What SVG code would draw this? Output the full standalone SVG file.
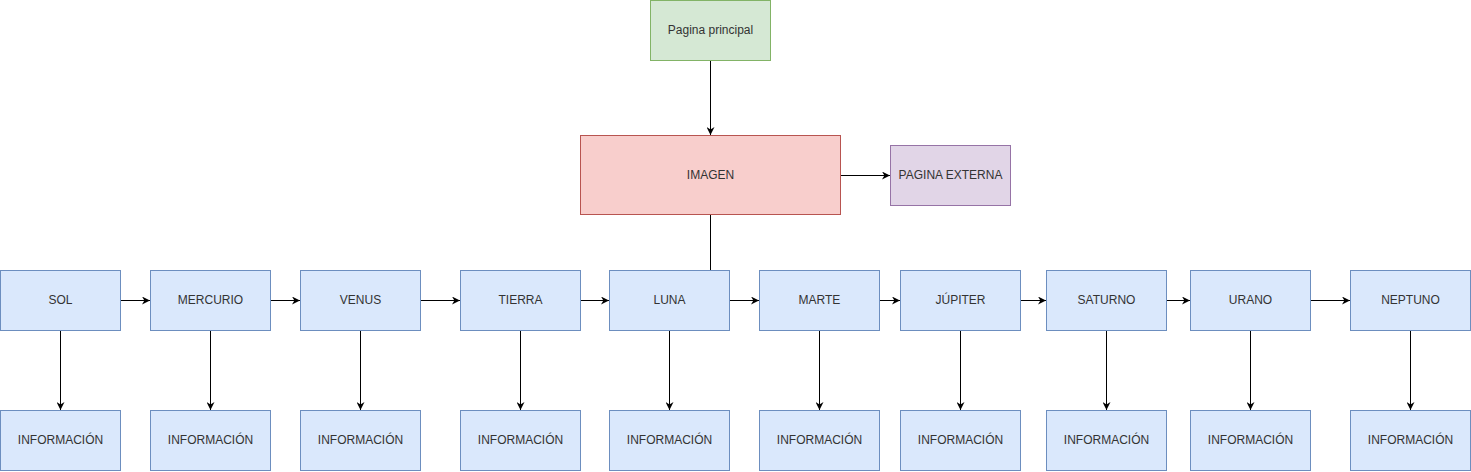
<svg xmlns="http://www.w3.org/2000/svg" width="1471" height="472" viewBox="0 0 1471 472">
<style>
.t{font-family:"Liberation Sans",Arial,sans-serif;font-size:12px;fill:#333333;text-anchor:middle;dominant-baseline:central}
.blue{fill:#dae8fc;stroke:#6c8ebf;stroke-width:1}
.green{fill:#d5e8d4;stroke:#82b366;stroke-width:1}
.red{fill:#f8cecc;stroke:#b85450;stroke-width:1}
.purple{fill:#e1d5e7;stroke:#9673a6;stroke-width:1}
.c{fill:none;stroke:#000000;stroke-width:1}
.a{marker-end:url(#arr)}
</style>
<defs>
<marker id="arr" viewBox="0 0 10 10" refX="10" refY="5" markerWidth="8" markerHeight="8" markerUnits="userSpaceOnUse" orient="auto">
<path d="M0,0 L10,5 L0,10 L3,5 Z" fill="#000000"/>
</marker>
</defs>
<g id="connectors">
<path class="c a" d="M710.5,61 L710.5,135"/>
<path class="c a" d="M841,175.5 L890,175.5"/>
<path class="c" d="M710.5,215 L710.5,270"/>
<path class="c a" d="M121,300.5 L150,300.5"/>
<path class="c a" d="M271,300.5 L300,300.5"/>
<path class="c a" d="M421,300.5 L460,300.5"/>
<path class="c a" d="M581,300.5 L609,300.5"/>
<path class="c a" d="M730,300.5 L759,300.5"/>
<path class="c a" d="M880,300.5 L900,300.5"/>
<path class="c a" d="M1021,300.5 L1046,300.5"/>
<path class="c a" d="M1167,300.5 L1190,300.5"/>
<path class="c a" d="M1311,300.5 L1350,300.5"/>
<path class="c a" d="M60.5,331 L60.5,410"/>
<path class="c a" d="M210.5,331 L210.5,410"/>
<path class="c a" d="M360.5,331 L360.5,410"/>
<path class="c a" d="M520.5,331 L520.5,410"/>
<path class="c a" d="M669.5,331 L669.5,410"/>
<path class="c a" d="M819.5,331 L819.5,410"/>
<path class="c a" d="M960.5,331 L960.5,410"/>
<path class="c a" d="M1106.5,331 L1106.5,410"/>
<path class="c a" d="M1250.5,331 L1250.5,410"/>
<path class="c a" d="M1410.5,331 L1410.5,410"/>
</g>
<g id="pagina-principal"><rect class="green" x="650.5" y="0.5" width="120" height="60"/><text class="t" x="710.5" y="30">Pagina principal</text></g>
<g id="imagen"><rect class="red" x="580.5" y="135.5" width="260" height="79"/><text class="t" x="710.5" y="175">IMAGEN</text></g>
<g id="pagina-externa"><rect class="purple" x="890.5" y="145.5" width="120" height="60"/><text class="t" x="950.5" y="175">PAGINA EXTERNA</text></g>
<g id="sol"><rect class="blue" x="0.5" y="270.5" width="120" height="60"/><text class="t" x="60.5" y="300">SOL</text></g>
<g id="mercurio"><rect class="blue" x="150.5" y="270.5" width="120" height="60"/><text class="t" x="210.5" y="300">MERCURIO</text></g>
<g id="venus"><rect class="blue" x="300.5" y="270.5" width="120" height="60"/><text class="t" x="360.5" y="300">VENUS</text></g>
<g id="tierra"><rect class="blue" x="460.5" y="270.5" width="120" height="60"/><text class="t" x="520.5" y="300">TIERRA</text></g>
<g id="luna"><rect class="blue" x="609.5" y="270.5" width="120" height="60"/><text class="t" x="669.5" y="300">LUNA</text></g>
<g id="marte"><rect class="blue" x="759.5" y="270.5" width="120" height="60"/><text class="t" x="819.5" y="300">MARTE</text></g>
<g id="jupiter"><rect class="blue" x="900.5" y="270.5" width="120" height="60"/><text class="t" x="960.5" y="300">JÚPITER</text></g>
<g id="saturno"><rect class="blue" x="1046.5" y="270.5" width="120" height="60"/><text class="t" x="1106.5" y="300">SATURNO</text></g>
<g id="urano"><rect class="blue" x="1190.5" y="270.5" width="120" height="60"/><text class="t" x="1250.5" y="300">URANO</text></g>
<g id="neptuno"><rect class="blue" x="1350.5" y="270.5" width="120" height="60"/><text class="t" x="1410.5" y="300">NEPTUNO</text></g>
<g id="info-sol"><rect class="blue" x="0.5" y="410.5" width="120" height="60"/><text class="t" x="60.5" y="440">INFORMACIÓN</text></g>
<g id="info-mercurio"><rect class="blue" x="150.5" y="410.5" width="120" height="60"/><text class="t" x="210.5" y="440">INFORMACIÓN</text></g>
<g id="info-venus"><rect class="blue" x="300.5" y="410.5" width="120" height="60"/><text class="t" x="360.5" y="440">INFORMACIÓN</text></g>
<g id="info-tierra"><rect class="blue" x="460.5" y="410.5" width="120" height="60"/><text class="t" x="520.5" y="440">INFORMACIÓN</text></g>
<g id="info-luna"><rect class="blue" x="609.5" y="410.5" width="120" height="60"/><text class="t" x="669.5" y="440">INFORMACIÓN</text></g>
<g id="info-marte"><rect class="blue" x="759.5" y="410.5" width="120" height="60"/><text class="t" x="819.5" y="440">INFORMACIÓN</text></g>
<g id="info-jupiter"><rect class="blue" x="900.5" y="410.5" width="120" height="60"/><text class="t" x="960.5" y="440">INFORMACIÓN</text></g>
<g id="info-saturno"><rect class="blue" x="1046.5" y="410.5" width="120" height="60"/><text class="t" x="1106.5" y="440">INFORMACIÓN</text></g>
<g id="info-urano"><rect class="blue" x="1190.5" y="410.5" width="120" height="60"/><text class="t" x="1250.5" y="440">INFORMACIÓN</text></g>
<g id="info-neptuno"><rect class="blue" x="1350.5" y="410.5" width="120" height="60"/><text class="t" x="1410.5" y="440">INFORMACIÓN</text></g>
</svg>
